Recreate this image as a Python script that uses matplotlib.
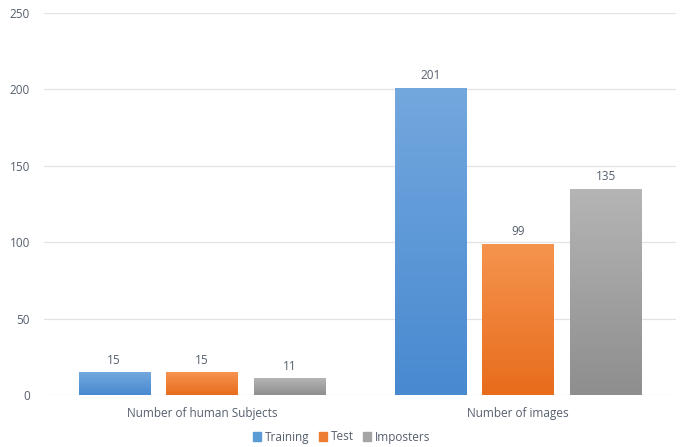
import matplotlib.pyplot as plt
import numpy as np
from matplotlib.colors import LinearSegmentedColormap
from matplotlib.patches import Patch

categories = ['Number of human Subjects', 'Number of images']
series = ['Training', 'Test', 'Imposters']
values = {
    'Training': [15, 201],
    'Test': [15, 99],
    'Imposters': [11, 135],
}
# top / bottom colours of each gradient
grad = {
    'Training': ('#73a8de', '#4889d0'),
    'Test': ('#f5944f', '#e86c1c'),
    'Imposters': ('#b5b5b5', '#8e8e8e'),
}
flat = {'Training': '#5b9bd5', 'Test': '#ed7d31', 'Imposters': '#a5a5a5'}

plt.rcParams['font.family'] = ['Open Sans', 'DejaVu Sans']
txt = '#555f6d'

fig = plt.figure(figsize=(6.83, 4.47), dpi=100)
ax = fig.add_axes([44 / 683, 52 / 447, 632 / 683, 382 / 447])

x = np.arange(len(categories))
bw = 0.225
step = 0.278
grid = np.linspace(1, 0, 256).reshape(-1, 1)

for i, s in enumerate(series):
    xs = x + (i - 1) * step
    bars = ax.bar(xs, values[s], width=bw, color=flat[s], zorder=2)
    cmap = LinearSegmentedColormap.from_list(s, [grad[s][1], grad[s][0]])
    for b, v in zip(bars, values[s]):
        x0 = b.get_x()
        im = ax.imshow(grid, cmap=cmap, aspect='auto', vmin=0, vmax=1,
                       extent=[x0, x0 + bw, 0, v], zorder=3)
        im.set_clip_path(b)
        ax.annotate(str(v), (x0 + bw / 2, v), xytext=(0, 4),
                    textcoords='offset points', ha='center', va='bottom',
                    fontsize=8.5, color=txt, zorder=4)

ax.set_xlim(-0.5, 1.5)
ax.set_ylim(0, 250)
ax.set_yticks(np.arange(0, 251, 50))
ax.yaxis.grid(True, color='#e3e3e3', lw=0.9, zorder=0)
ax.set_axisbelow(True)
for sp in ax.spines.values():
    sp.set_visible(False)
ax.tick_params(length=0, labelsize=8.5, colors=txt)
ax.tick_params(axis='y', pad=10)
ax.tick_params(axis='x', pad=9)
ax.set_xticks(x)
ax.set_xticklabels(categories)

handles = [Patch(color=flat[s], label=s) for s in series]
fig.legend(handles=handles, loc='center', bbox_to_anchor=(0.5, 10 / 447),
           ncol=3, frameon=False, fontsize=8.5, handlelength=0.7,
           handleheight=0.7, handletextpad=0.3, columnspacing=0.8,
           labelcolor=txt)

fig.savefig('out.png', dpi=100)
